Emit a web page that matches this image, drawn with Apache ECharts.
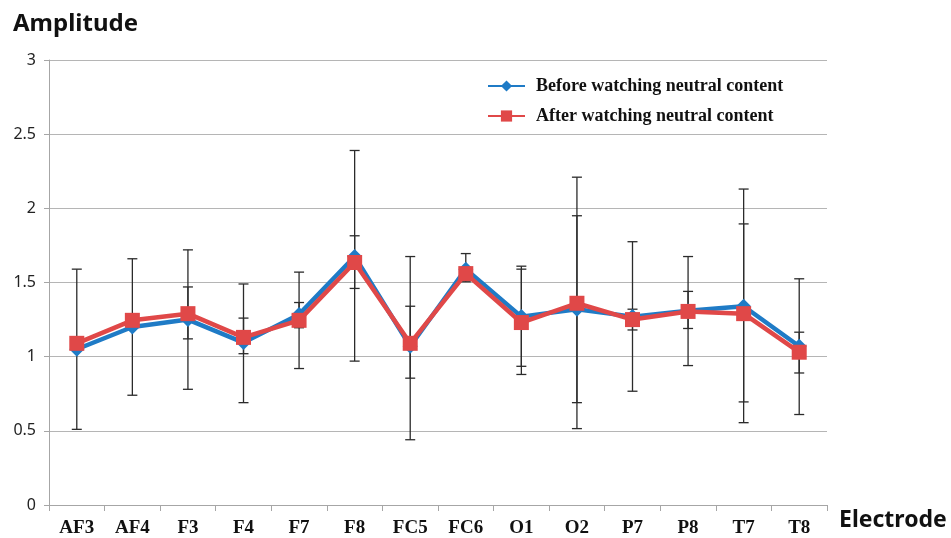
<!DOCTYPE html>
<html><head><meta charset="utf-8">
<script src="https://cdn.jsdelivr.net/npm/echarts@6/dist/echarts.min.js"></script>
<style>html,body{margin:0;padding:0;background:#fff}#c{width:951px;height:538px}</style>
</head><body><div id="c"></div>
<script>
const categories = ['AF3','AF4','F3','F4','F7','F8','FC5','FC6','O1','O2','P7','P8','T7','T8'];
const beforeValues = [1.05, 1.20, 1.25, 1.095, 1.285, 1.675, 1.07, 1.59, 1.27, 1.32, 1.27, 1.31, 1.34, 1.07];
const afterValues  = [1.09, 1.245, 1.29, 1.13, 1.245, 1.635, 1.09, 1.56, 1.23, 1.36, 1.25, 1.305, 1.29, 1.03];
const beforeLow  = [0.51, 0.74, 0.78, 0.69, 1.195, 0.97, 0.44, 1.505, 0.935, 0.69, 0.767, 0.94, 0.555, 0.61];
const beforeHigh = [1.59, 1.66, 1.72, 1.49, 1.365, 2.39, 1.675, 1.695, 1.61, 1.95, 1.775, 1.675, 2.13, 1.525];
const afterLow   = [1.06, 1.21, 1.12, 1.02, 0.92, 1.46, 0.855, 1.53, 0.88, 0.515, 1.18, 1.19, 0.695, 0.89];
const afterHigh  = [1.12, 1.28, 1.47, 1.26, 1.57, 1.815, 1.34, 1.59, 1.59, 2.21, 1.32, 1.44, 1.895, 1.165];
const yMin = 0, yMax = 3, yStep = 0.5;

function errRender(params, api) {
  const x = api.value(0), lo = api.value(1), hi = api.value(2);
  const pHi = api.coord([x, hi]);
  const pLo = api.coord([x, lo]);
  const w = 5;
  const st = {stroke: '#2b2b2b', lineWidth: 1.3};
  return {type: 'group', children: [
    {type: 'line', shape: {x1: pHi[0], y1: pHi[1], x2: pLo[0], y2: pLo[1]}, style: st},
    {type: 'line', shape: {x1: pHi[0]-w, y1: pHi[1], x2: pHi[0]+w, y2: pHi[1]}, style: st},
    {type: 'line', shape: {x1: pLo[0]-w, y1: pLo[1], x2: pLo[0]+w, y2: pLo[1]}, style: st}
  ]};
}

const chart = echarts.init(document.getElementById('c'), null, {renderer: 'canvas'});
chart.setOption({
  animation: false,
  backgroundColor: '#fff',
  grid: {left: 49, right: 124, top: 60, bottom: 32, containLabel: false},
  graphic: [
    {type: 'text', x: 13, y: 24, style: {text: 'Amplitude', font: 'bold 24px "Noto Sans", sans-serif', fill: '#111', verticalAlign: 'middle'}},
    {type: 'text', x: 839, y: 520, style: {text: 'Electrode', font: 'bold 23px "Noto Sans", sans-serif', fill: '#111', verticalAlign: 'middle'}}
  ],
  legend: {
    data: ['Before watching neutral content', 'After watching neutral content'],
    orient: 'vertical', left: 482, top: 72, itemGap: 12, itemWidth: 37, itemHeight: 14,
    textStyle: {fontFamily: '"Liberation Serif", serif', fontWeight: 'bold', fontSize: 18, color: '#111', padding: [0,0,0,6]}
  },
  xAxis: {
    type: 'category', data: categories, boundaryGap: true,
    axisLine: {lineStyle: {color: '#a6a6a6', width: 1}},
    axisTick: {show: true, length: 6, lineStyle: {color: '#a6a6a6'}},
    axisLabel: {margin: 14, fontFamily: '"Liberation Serif", serif', fontWeight: 'bold', fontSize: 19, color: '#111'}
  },
  yAxis: {
    type: 'value', min: yMin, max: yMax, interval: yStep,
    axisLine: {show: true, lineStyle: {color: '#a6a6a6', width: 1}},
    axisTick: {show: true, length: 5, lineStyle: {color: '#a6a6a6'}},
    splitLine: {lineStyle: {color: '#b5b5b5', width: 1}},
    axisLabel: {margin: 13, fontFamily: '"Noto Sans", sans-serif', fontSize: 16, color: '#222'}
  },
  series: [
    {type: 'custom', name: 'errBefore', renderItem: errRender, z: 1, silent: true,
      encode: {x: 0, y: [1, 2]},
      data: categories.map((c, i) => [i, beforeLow[i], beforeHigh[i]])},
    {type: 'custom', name: 'errAfter', renderItem: errRender, z: 1, silent: true,
      encode: {x: 0, y: [1, 2]},
      data: categories.map((c, i) => [i, afterLow[i], afterHigh[i]])},
    {type: 'line', name: 'Before watching neutral content', data: beforeValues, z: 3,
      symbol: 'diamond', symbolSize: 15, color: '#1f7bc6',
      lineStyle: {width: 4.5, color: '#1f7bc6'}, itemStyle: {color: '#1f7bc6'}},
    {type: 'line', name: 'After watching neutral content', data: afterValues, z: 4,
      symbol: 'rect', symbolSize: 15, color: '#e04848',
      lineStyle: {width: 4.5, color: '#e04848'}, itemStyle: {color: '#e04848'}}
  ]
});
</script></body></html>
